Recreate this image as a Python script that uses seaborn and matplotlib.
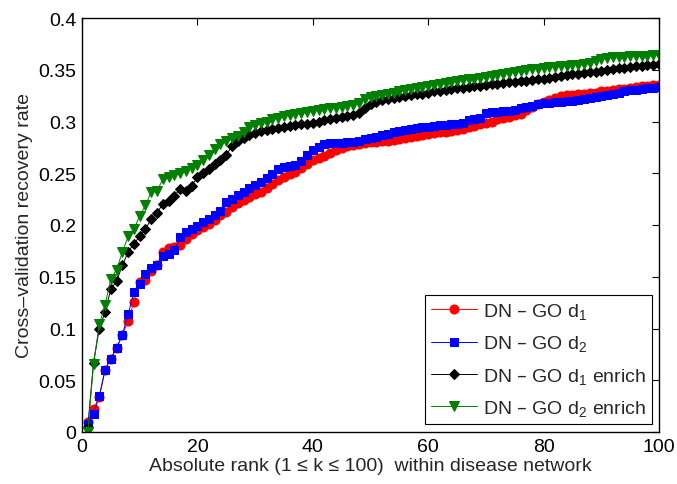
import numpy as np
import pandas as pd
import matplotlib
matplotlib.use("Agg")
import matplotlib.pyplot as plt
import seaborn as sns

# Absolute rank k within the disease network
ranks = list(range(1, 101))

# Cross-validation recovery rate for each scoring scheme
dn_go_d1 = [
    0.010, 0.022, 0.034, 0.060, 0.071, 0.081, 0.094, 0.107, 0.126, 0.145,
    0.147, 0.156, 0.161, 0.174, 0.178, 0.179, 0.181, 0.186, 0.191, 0.195,
    0.198, 0.201, 0.205, 0.210, 0.213, 0.217, 0.221, 0.224, 0.227, 0.230,
    0.232, 0.236, 0.240, 0.243, 0.246, 0.249, 0.251, 0.255, 0.259, 0.263,
    0.265, 0.267, 0.270, 0.272, 0.274, 0.276, 0.277, 0.278, 0.279, 0.280,
    0.280, 0.281, 0.281, 0.282, 0.283, 0.284, 0.285, 0.286, 0.287, 0.288,
    0.289, 0.290, 0.290, 0.291, 0.292, 0.293, 0.295, 0.296, 0.298, 0.299,
    0.300, 0.302, 0.303, 0.304, 0.306, 0.307, 0.311, 0.314, 0.317, 0.319,
    0.321, 0.323, 0.325, 0.326, 0.326, 0.327, 0.327, 0.328, 0.328, 0.329,
    0.329, 0.330, 0.331, 0.331, 0.332, 0.333, 0.334, 0.334, 0.335, 0.335,
]
dn_go_d2 = [
    0.008, 0.017, 0.035, 0.060, 0.071, 0.081, 0.094, 0.114, 0.135, 0.143,
    0.153, 0.158, 0.161, 0.170, 0.172, 0.176, 0.188, 0.193, 0.196, 0.199,
    0.203, 0.206, 0.210, 0.214, 0.222, 0.225, 0.229, 0.232, 0.236, 0.239,
    0.242, 0.245, 0.249, 0.254, 0.256, 0.257, 0.258, 0.262, 0.268, 0.272,
    0.275, 0.278, 0.279, 0.279, 0.279, 0.280, 0.280, 0.281, 0.283, 0.284,
    0.285, 0.287, 0.288, 0.290, 0.291, 0.292, 0.293, 0.294, 0.295, 0.295,
    0.296, 0.297, 0.297, 0.298, 0.298, 0.299, 0.301, 0.302, 0.303, 0.308,
    0.309, 0.309, 0.310, 0.310, 0.311, 0.313, 0.314, 0.315, 0.317, 0.318,
    0.318, 0.319, 0.319, 0.320, 0.320, 0.321, 0.322, 0.323, 0.324, 0.325,
    0.326, 0.327, 0.328, 0.329, 0.330, 0.330, 0.331, 0.332, 0.332, 0.333,
]
dn_go_d1_enrich = [
    0.005, 0.067, 0.100, 0.116, 0.138, 0.146, 0.161, 0.174, 0.182, 0.189,
    0.196, 0.206, 0.212, 0.220, 0.223, 0.228, 0.235, 0.233, 0.238, 0.246,
    0.250, 0.254, 0.259, 0.263, 0.268, 0.276, 0.281, 0.284, 0.287, 0.289,
    0.291, 0.292, 0.293, 0.294, 0.295, 0.296, 0.297, 0.298, 0.298, 0.299,
    0.300, 0.301, 0.302, 0.303, 0.304, 0.305, 0.306, 0.308, 0.313, 0.317,
    0.319, 0.321, 0.322, 0.323, 0.324, 0.325, 0.326, 0.327, 0.327, 0.328,
    0.329, 0.329, 0.330, 0.331, 0.332, 0.332, 0.333, 0.334, 0.334, 0.335,
    0.336, 0.336, 0.337, 0.338, 0.338, 0.339, 0.339, 0.340, 0.341, 0.341,
    0.342, 0.343, 0.344, 0.345, 0.346, 0.346, 0.347, 0.348, 0.348, 0.349,
    0.350, 0.351, 0.352, 0.352, 0.353, 0.354, 0.354, 0.355, 0.355, 0.356,
]
dn_go_d2_enrich = [
    0.000, 0.066, 0.104, 0.123, 0.148, 0.157, 0.174, 0.189, 0.196, 0.209,
    0.219, 0.232, 0.233, 0.244, 0.246, 0.248, 0.250, 0.252, 0.255, 0.258,
    0.263, 0.268, 0.273, 0.278, 0.281, 0.284, 0.286, 0.290, 0.295, 0.297,
    0.299, 0.300, 0.302, 0.303, 0.305, 0.306, 0.307, 0.308, 0.309, 0.310,
    0.311, 0.312, 0.313, 0.313, 0.314, 0.315, 0.316, 0.318, 0.322, 0.324,
    0.325, 0.326, 0.327, 0.328, 0.329, 0.330, 0.331, 0.332, 0.333, 0.334,
    0.335, 0.336, 0.337, 0.338, 0.339, 0.340, 0.341, 0.341, 0.342, 0.343,
    0.344, 0.345, 0.346, 0.347, 0.348, 0.349, 0.350, 0.351, 0.351, 0.352,
    0.353, 0.353, 0.354, 0.354, 0.355, 0.355, 0.356, 0.357, 0.358, 0.360,
    0.361, 0.362, 0.362, 0.362, 0.363, 0.363, 0.363, 0.363, 0.364, 0.364,
]

series_labels = [
    "DN – GO d$_1$",
    "DN – GO d$_2$",
    "DN – GO d$_1$ enrich",
    "DN – GO d$_2$ enrich",
]
x_ticks = [0, 20, 40, 60, 80, 100]
y_ticks = [0, 0.05, 0.1, 0.15, 0.2, 0.25, 0.3, 0.35, 0.4]
y_tick_labels = ["0", "0.05", "0.1", "0.15", "0.2", "0.25", "0.3", "0.35", "0.4"]

sns.set_theme(style="white")
plt.rcParams["font.family"] = ["Liberation Sans", "DejaVu Sans"]
plt.rcParams["mathtext.default"] = "regular"
plt.rcParams["axes.unicode_minus"] = False

FS = 14

fig = plt.figure(figsize=(6.77, 4.85), dpi=100)
ax = fig.add_axes([82 / 677, 52 / 485, 577 / 677, 414 / 485])

styles = [
    dict(color="#ff0000", marker="o", markersize=6.5),
    dict(color="#0000ff", marker="s", markersize=6),
    dict(color="#000000", marker="D", markersize=5.5),
    dict(color="#008000", marker="v", markersize=7),
]
all_series = [dn_go_d1, dn_go_d2, dn_go_d1_enrich, dn_go_d2_enrich]

for values, label, st in zip(all_series, series_labels, styles):
    df = pd.DataFrame({"rank": ranks, "rate": values})
    sns.lineplot(
        data=df, x="rank", y="rate", ax=ax, label=label,
        color=st["color"], marker=st["marker"], markersize=st["markersize"],
        markeredgecolor=st["color"], markerfacecolor=st["color"],
        linewidth=0.7, estimator=None,
    )

ax.set_xlim(0, 100)
ax.set_ylim(0, 0.4)
ax.set_xticks(x_ticks)
ax.set_xticklabels([str(t) for t in x_ticks])
ax.set_yticks(y_ticks)
ax.set_yticklabels(y_tick_labels)
ax.tick_params(axis="both", which="major", direction="in", length=5, width=0.8,
               top=True, right=True, labelsize=FS, colors="black", pad=4)
for sp in ax.spines.values():
    sp.set_visible(True)
    sp.set_color("black")
    sp.set_linewidth(1.0)

ax.set_xlabel("Absolute rank (1 ≤ k ≤ 100)  within disease network",
              fontsize=FS, labelpad=2)
ax.set_ylabel("Cross–validation recovery rate", fontsize=FS, labelpad=4)

leg = ax.legend(loc="lower right", bbox_to_anchor=(0.988, 0.019),
                borderaxespad=0, fontsize=FS, frameon=True, fancybox=False,
                handlelength=2.4, labelspacing=0.64, handletextpad=0.3,
                borderpad=0.3)
leg.get_frame().set_edgecolor("black")
leg.get_frame().set_linewidth(0.8)
leg.get_frame().set_alpha(1)

fig.savefig("out.png", dpi=100, facecolor="white")
